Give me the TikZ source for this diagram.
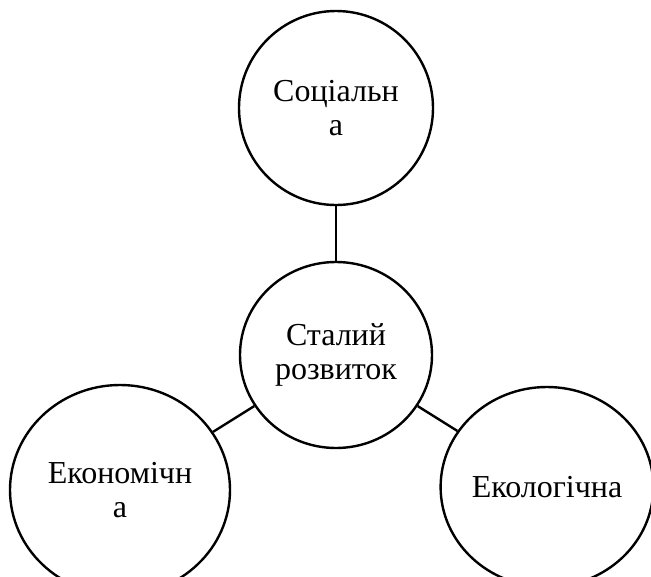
\documentclass[tikz,border=0pt]{standalone}
\usepackage{fontspec}
\newfontfamily\partfont{Liberation Serif}
\usetikzlibrary{shapes.geometric}

\begin{document}
\begin{tikzpicture}[
  x=1pt, y=-1pt,
  font=\partfont\fontsize{32}{34}\selectfont,
  part/.style={ellipse, draw=black, line width=2.4pt, fill=white, align=center, inner sep=0pt},
  link/.style={draw=black, line width=2.4pt}]
\useasboundingbox (0,0) rectangle (651,576);
\clip (0,0) rectangle (651,576);
\node[part, minimum width=194pt, minimum height=194pt] (soc) at (336,108) {Соціальн\\а};
\node[part, minimum width=192pt, minimum height=186pt] (main) at (336,355) {Сталий\\розвиток};
\node[part, minimum width=220pt, minimum height=210pt] (eco) at (120,490) {Економічн\\а};
\node[part, minimum width=212pt, minimum height=200pt] (env) at (547,487) {Екологічна};
\draw[link] (soc) -- (main);
\draw[link] (main) -- (eco);
\draw[link] (main) -- (env);
\end{tikzpicture}
\end{document}
